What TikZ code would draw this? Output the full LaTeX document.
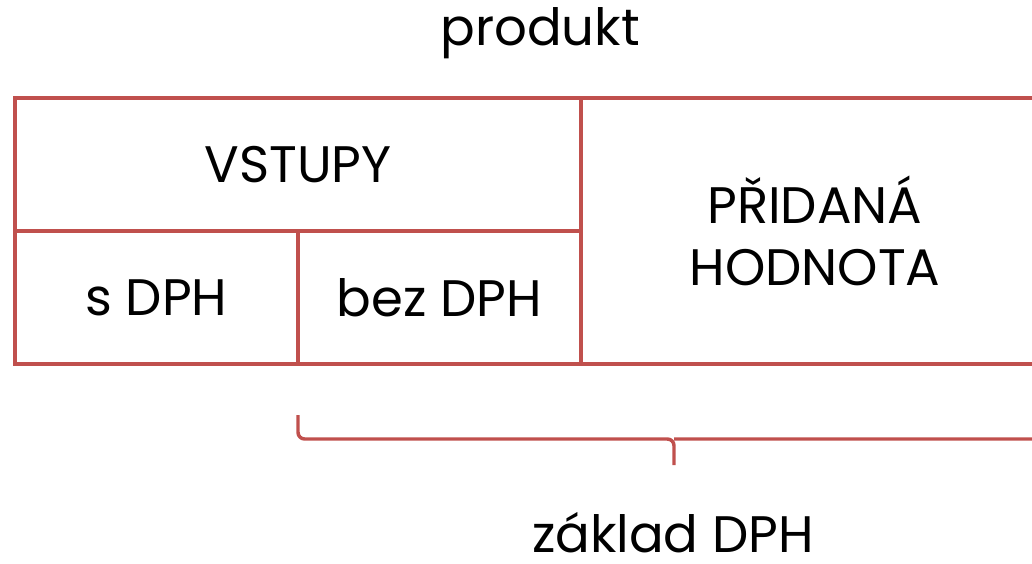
\documentclass[tikz,border=0pt]{standalone}
\usepackage{fontspec}
\setmainfont{Poppins}
\usepackage{xcolor}
\usetikzlibrary{positioning}
\definecolor{cellred}{RGB}{192,80,77}

\begin{document}
\begin{tikzpicture}[x=0.75pt,y=-0.75pt]
        \tikzstyle{cell}=[rectangle,draw=cellred,line width=2.6pt,inner sep=0pt,align=center,font=\fontsize{38.5}{46}\selectfont]
        \tikzstyle{caption}=[inner sep=0pt,anchor=base,font=\fontsize{38.5}{46}\selectfont]
        \tikzstyle{brace}=[draw=cellred,line width=2.6pt,rounded corners=5pt]
        \useasboundingbox (0,0) rectangle (1032,564);
        % cells of the product
        \node [cell,minimum width=424.5pt,minimum height=99.75pt] (vstupy) at (298,164.5) {VSTUPY};
        \node [cell,minimum width=212.25pt,minimum height=99.75pt] (sdph) at (156.5,297.5) {s DPH};
        \node [cell,minimum width=212.25pt,minimum height=99.75pt] (bezdph) at (439.5,297.5) {bez DPH};
        \node [cell,minimum width=351pt,minimum height=199.5pt] (pridana) at (815,231) {PŘIDANÁ\\HODNOTA};
        % labels
        \node [caption] (produkt) at (540,45) {produkt};
        \node [caption] (zaklad) at (673,552) {základ DPH};
        % brace under bez DPH and PŘIDANÁ HODNOTA
        \coordinate (bl) at (298,415);
        \coordinate (br) at (1050,415);
        \coordinate (bmid) at (674,439);
        \coordinate (tip) at (674,465);
        \path[brace] (bl) |- (bmid) -- (tip);
        \path[brace] (br) |- (bmid);
\end{tikzpicture}
\end{document}
